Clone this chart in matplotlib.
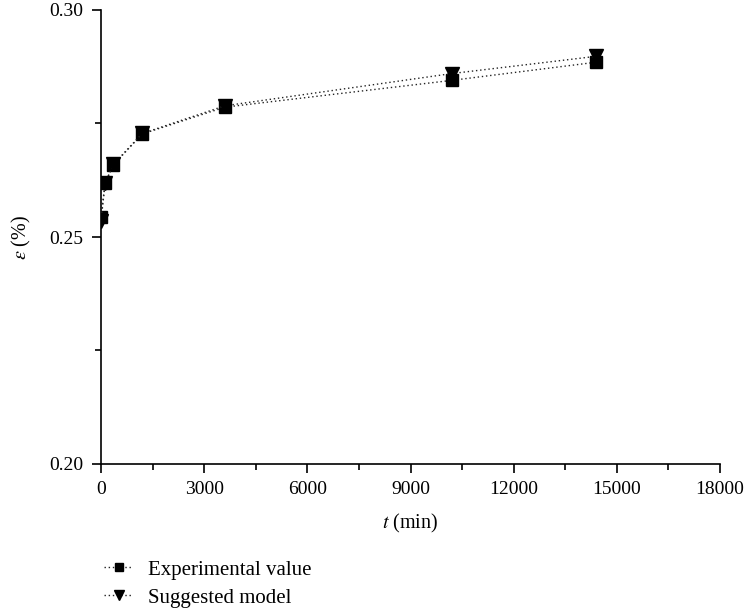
import matplotlib
matplotlib.use("Agg")
import matplotlib.pyplot as plt
from matplotlib.ticker import MultipleLocator, FormatStrFormatter

plt.rcParams["font.family"] = ["Liberation Serif", "DejaVu Serif"]
plt.rcParams["mathtext.fontset"] = "stix"

# Strain over time: measured values and model prediction
time_min = [0, 120, 360, 1200, 3600, 10200, 14400]
experimental = [0.2545, 0.2619, 0.2659, 0.2727, 0.2786, 0.2845, 0.2885]
model = [0.2535, 0.2619, 0.2660, 0.2728, 0.2789, 0.2860, 0.2898]

x_ticks = [0, 3000, 6000, 9000, 12000, 15000, 18000]
y_ticks = [0.20, 0.25, 0.30]

fig = plt.figure(figsize=(7.47, 6.11), dpi=100)
ax = fig.add_axes([101 / 747, 1 - 464 / 611, 619 / 747, 454 / 611])

dot = (0, (1, 2))
ax.plot(time_min, experimental, linestyle=dot, color="#222222", lw=1.0,
        marker="s", markersize=8, markerfacecolor="black",
        markeredgecolor="black", label="Experimental value", zorder=3)
ax.plot(time_min, model, linestyle=dot, color="#222222", lw=1.0,
        marker="v", markersize=9.5, markerfacecolor="black",
        markeredgecolor="black", label="Suggested model", zorder=4)

ax.set_xlim(0, 18000)
ax.set_ylim(0.20, 0.30)
ax.set_xticks(x_ticks)
ax.set_yticks(y_ticks)
ax.yaxis.set_major_formatter(FormatStrFormatter("%.2f"))
ax.xaxis.set_minor_locator(MultipleLocator(1500))
ax.yaxis.set_minor_locator(MultipleLocator(0.025))

for side in ("top", "right"):
    ax.spines[side].set_visible(False)
for side in ("left", "bottom"):
    ax.spines[side].set_linewidth(1.2)

ax.tick_params(which="major", direction="out", length=6.5, width=1.2,
               labelsize=14, pad=6)
ax.tick_params(which="minor", direction="out", length=4.3, width=1.2)

ax.set_xlabel("$t$ (min)", fontsize=14.5, labelpad=10)
ax.set_ylabel("$\\varepsilon$ (%)", fontsize=14.5, labelpad=12)

fig.legend(loc="upper left", bbox_to_anchor=(104 / 747, 1 - 560 / 611),
           frameon=False, fontsize=15, handlelength=1.4, handletextpad=0.7,
           labelspacing=0.4, borderpad=0, borderaxespad=0, markerscale=0.8)

fig.savefig("out.png", dpi=100)
